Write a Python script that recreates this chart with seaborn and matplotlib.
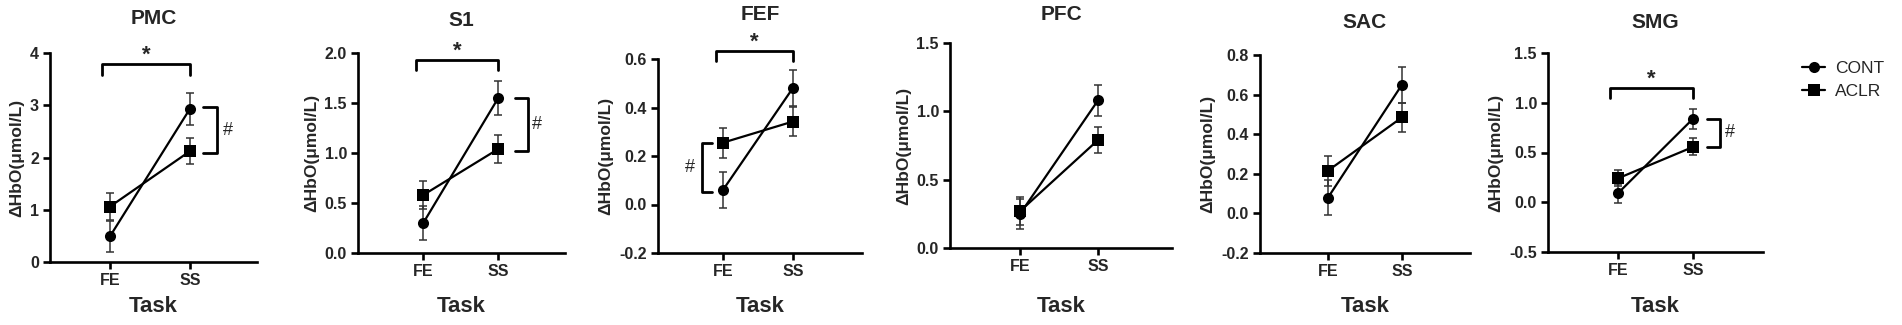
import pandas as pd
import matplotlib
matplotlib.use("Agg")
import matplotlib.pyplot as plt
import seaborn as sns

# --- Data ---
regions = ["PMC", "S1", "FEF", "PFC", "SAC", "SMG"]
tasks = ["FE", "SS"]
groups = ["CONT", "ACLR"]

cont_mean = {"PMC": [0.49, 2.93], "S1": [0.30, 1.55], "FEF": [0.06, 0.48],
             "PFC": [0.25, 1.08], "SAC": [0.08, 0.65], "SMG": [0.09, 0.84]}
cont_err = {"PMC": [0.30, 0.31], "S1": [0.17, 0.17], "FEF": [0.075, 0.075],
            "PFC": [0.11, 0.115], "SAC": [0.09, 0.09], "SMG": [0.095, 0.10]}
aclr_mean = {"PMC": [1.06, 2.12], "S1": [0.58, 1.04], "FEF": [0.255, 0.342],
             "PFC": [0.27, 0.79], "SAC": [0.216, 0.485], "SMG": [0.24, 0.556]}
aclr_err = {"PMC": [0.26, 0.25], "S1": [0.14, 0.14], "FEF": [0.062, 0.06],
            "PFC": [0.10, 0.095], "SAC": [0.076, 0.075], "SMG": [0.08, 0.085]}

y_ticks = {"PMC": [0, 1, 2, 3, 4], "S1": [0.0, 0.5, 1.0, 1.5, 2.0],
           "FEF": [-0.2, 0.0, 0.2, 0.4, 0.6], "PFC": [0.0, 0.5, 1.0, 1.5],
           "SAC": [-0.2, 0.0, 0.2, 0.4, 0.6, 0.8], "SMG": [-0.5, 0.0, 0.5, 1.0, 1.5]}
y_fmt = {"PMC": "{:.0f}", "S1": "{:.1f}", "FEF": "{:.1f}", "PFC": "{:.1f}",
         "SAC": "{:.1f}", "SMG": "{:.1f}"}

# "*" task bracket: (y of bar, drop) ; "#" group bracket: (x, y_top, y_bottom, side)
star_bracket = {"PMC": (3.78, 0.2), "S1": (1.93, 0.1), "FEF": (0.632, 0.04), "SMG": (1.15, 0.1)}
hash_bracket = {"PMC": (1.34, 2.97, 2.08, "right"), "S1": (1.39, 1.55, 1.02, "right"),
                "FEF": (-0.30, 0.255, 0.052, "left"), "SMG": (1.36, 0.84, 0.556, "right")}

# --- Long table ---
rows = []
for r in regions:
    for i, t in enumerate(tasks):
        rows.append({"region": r, "task": t, "x": i, "group": "CONT",
                     "value": cont_mean[r][i], "err": cont_err[r][i]})
        rows.append({"region": r, "task": t, "x": i, "group": "ACLR",
                     "value": aclr_mean[r][i], "err": aclr_err[r][i]})
df = pd.DataFrame(rows)

# --- Layout (pixels: left, right, top, bottom, title y) ---
W, H = 1902, 325
layout = {"PMC": (50, 257, 53, 262, 18), "S1": (358, 565, 53, 253, 20),
          "FEF": (658, 862, 59, 253, 15), "PFC": (950, 1172, 43, 248, 15),
          "SAC": (1260, 1470, 55, 253, 22), "SMG": (1548, 1763, 53, 252, 23)}
xlims = {"PMC": (-0.75, 1.84), "S1": (-0.87, 1.89), "FEF": (-0.93, 1.99),
         "PFC": (-0.9, 1.95), "SAC": (-0.92, 1.92), "SMG": (-0.93, 1.93)}

sns.set_theme(style="ticks")
plt.rcParams["font.family"] = ["Liberation Sans", "DejaVu Sans"]

fig = plt.figure(figsize=(W / 100, H / 100), dpi=100)

for k, r in enumerate(regions):
    l, rt, t, b, ty = layout[r]
    ax = fig.add_axes([l / W, 1 - b / H, (rt - l) / W, (b - t) / H])
    sub = df[df["region"] == r]

    for g in groups:
        gd = sub[sub["group"] == g]
        ax.errorbar(gd["x"], gd["value"], yerr=gd["err"], fmt="none",
                    ecolor="#333333", elinewidth=1.1, capsize=3.2, capthick=1.1, zorder=2)

    sns.lineplot(data=sub, x="x", y="value", hue="group", style="group",
                 hue_order=groups, style_order=groups,
                 palette={"CONT": "black", "ACLR": "black"},
                 markers={"CONT": "o", "ACLR": "s"}, dashes=False,
                 markersize=8, linewidth=1.6, markeredgewidth=0,
                 legend=(r == "SMG"), ax=ax, zorder=3)

    ax.set_xlim(*xlims[r])
    ax.set_ylim(y_ticks[r][0], y_ticks[r][-1])
    ax.set_xticks(range(len(tasks)))
    ax.set_xticklabels(tasks, fontweight="bold", fontsize=11.5)
    ax.set_yticks(y_ticks[r])
    ax.set_yticklabels([y_fmt[r].format(v) for v in y_ticks[r]], fontweight="bold", fontsize=11.5)
    ax.tick_params(width=1.9, length=5, color="black", pad=3)
    for s in ["left", "bottom"]:
        ax.spines[s].set_linewidth(1.9)
        ax.spines[s].set_color("black")
    sns.despine(ax=ax)

    ax.set_ylabel("ΔHbO(μmol/L)", fontweight="bold", fontsize=12.5, labelpad=4)
    ax.set_xlabel("Task", fontweight="bold", fontsize=16)
    ax.xaxis.label.set_va("center")
    ax.xaxis.set_label_coords(0.5, -(307 - b) / (b - t))
    fig.text((l + rt) / 2 / W, 1 - ty / H, r, ha="center", va="center",
             fontweight="bold", fontsize=15)

    if r in star_bracket:
        yb, drop = star_bracket[r]
        ax.plot([0 - 0.1, 0 - 0.1, 1, 1], [yb - drop, yb, yb, yb - drop],
                color="black", lw=2.0, clip_on=False)
        ax.text(0.45, yb + drop * 0.9, "*", ha="center", va="center",
                fontweight="bold", fontsize=16, clip_on=False)
    if r in hash_bracket:
        xb, y1, y2, side = hash_bracket[r]
        tick = -0.17 if side == "right" else 0.14
        ax.plot([xb + tick, xb, xb, xb + tick], [y1, y1, y2, y2],
                color="black", lw=2.0, clip_on=False)
        xt = xb + 0.13 if side == "right" else xb - 0.17
        ax.text(xt, (y1 + y2) / 2, "#", ha="center", va="center", fontsize=13, clip_on=False)

    if r == "SMG":
        sns.move_legend(ax, loc="upper left", bbox_to_anchor=(1.11, 1.04), frameon=False,
                        title=None, fontsize=12.5, handlelength=1.3, handletextpad=0.6,
                        labelspacing=0.45)

fig.savefig("out.png", dpi=100)
